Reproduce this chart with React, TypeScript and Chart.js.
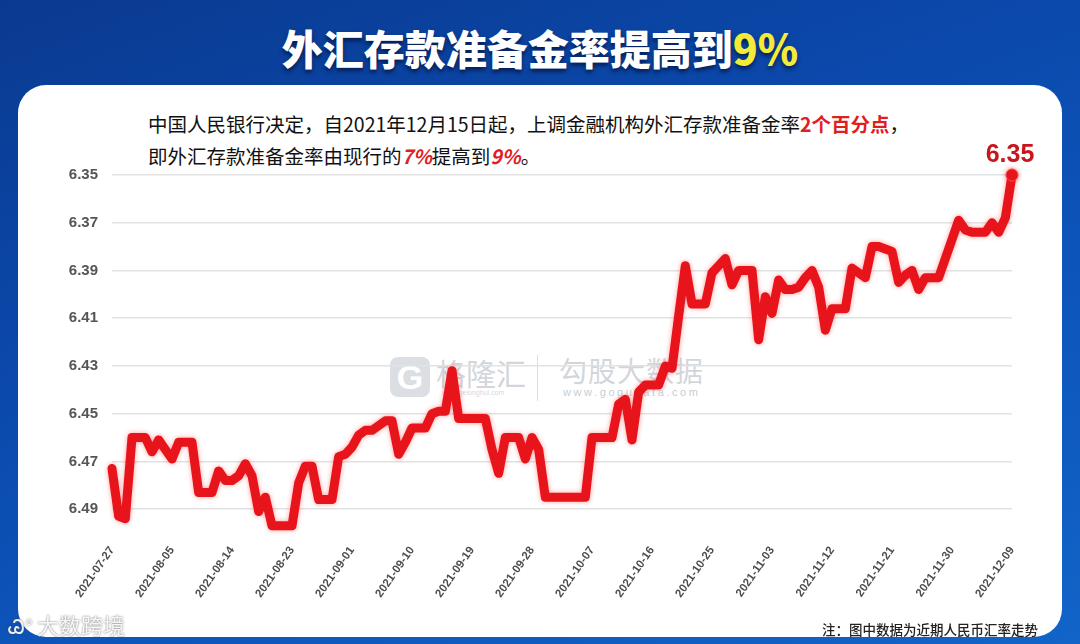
import React, { useEffect, useRef } from "react";
import { Chart, registerables } from "chart.js";

Chart.register(...registerables);

// ---- DATA ----
const julValues = [6.473, 6.493, 6.494, 6.46, 6.46];
const augValues = [
  6.46, 6.466, 6.461, 6.465, 6.469, 6.462, 6.462, 6.462, 6.483, 6.483, 6.483,
  6.474, 6.478, 6.478, 6.476, 6.471, 6.476, 6.491, 6.485, 6.497, 6.497, 6.497,
  6.497, 6.479, 6.472, 6.472, 6.486, 6.486, 6.486, 6.468, 6.467,
];
const sepValues = [
  6.464, 6.459, 6.457, 6.457, 6.455, 6.453, 6.453, 6.467, 6.462, 6.456, 6.456,
  6.456, 6.45, 6.449, 6.449, 6.432, 6.452, 6.452, 6.452, 6.452, 6.452, 6.465,
  6.475, 6.46, 6.46, 6.46, 6.469, 6.46, 6.465, 6.485,
];
const octValues = [
  6.485, 6.485, 6.485, 6.485, 6.485, 6.485, 6.46, 6.46, 6.46, 6.46, 6.446,
  6.444, 6.461, 6.441, 6.438, 6.438, 6.438, 6.43, 6.431, 6.409, 6.388, 6.404,
  6.404, 6.404, 6.391, 6.388, 6.385, 6.396, 6.39, 6.39, 6.39,
];
const novValues = [
  6.419, 6.401, 6.408, 6.394, 6.398, 6.398, 6.397, 6.393, 6.39, 6.397, 6.415,
  6.406, 6.406, 6.406, 6.389, 6.391, 6.393, 6.38, 6.38, 6.381, 6.382, 6.395,
  6.392, 6.39, 6.398, 6.393, 6.393, 6.393, 6.385, 6.377,
];
const decValues = [6.369, 6.373, 6.374, 6.374, 6.374, 6.37, 6.374, 6.368, 6.35];

const rates = [
  ...julValues,
  ...augValues,
  ...sepValues,
  ...octValues,
  ...novValues,
  ...decValues,
];

const firstDay = "2021-07-27";
const categories: string[] = (() => {
  const out: string[] = [];
  const d = new Date(firstDay + "T00:00:00Z");
  for (let i = 0; i < rates.length; i++) {
    out.push(d.toISOString().slice(0, 10));
    d.setUTCDate(d.getUTCDate() + 1);
  }
  return out;
})();

const tickLabels = [
  "2021-07-27", "2021-08-05", "2021-08-14", "2021-08-23", "2021-09-01",
  "2021-09-10", "2021-09-19", "2021-09-28", "2021-10-07", "2021-10-16",
  "2021-10-25", "2021-11-03", "2021-11-12", "2021-11-21", "2021-11-30",
  "2021-12-09",
];
const yTicks = [6.35, 6.37, 6.39, 6.41, 6.43, 6.45, 6.47, 6.49];
const yMin = 6.35;
const yMax = 6.5;
const lastLabel = "6.35";

const FONT = "'Liberation Sans', 'Noto Sans CJK SC', Arial, sans-serif";
const CJK = "'Noto Sans CJK SC', 'Noto Sans', sans-serif";

const lastValuePlugin = {
  id: "lastValue",
  afterDatasetsDraw(chart: any) {
    const meta = chart.getDatasetMeta(0);
    const pt = meta.data[meta.data.length - 1];
    if (!pt) return;
    const ctx = chart.ctx;
    ctx.save();
    ctx.font = "bold 25px " + FONT;
    ctx.fillStyle = "#c9151c";
    ctx.textAlign = "center";
    ctx.textBaseline = "alphabetic";
    ctx.fillText(lastLabel, pt.x - 2, pt.y - 13);
    ctx.restore();
  },
};

const glowPlugin = {
  id: "glow",
  beforeDatasetDraw(chart: any) {
    const ctx = chart.ctx;
    ctx.save();
    ctx.shadowColor = "rgba(255,40,40,0.45)";
    ctx.shadowBlur = 5;
  },
  afterDatasetDraw(chart: any) {
    chart.ctx.restore();
  },
};

function RateChart() {
  const ref = useRef<HTMLCanvasElement | null>(null);
  useEffect(() => {
    if (!ref.current) return;
    const chart = new Chart(ref.current, {
      type: "line",
      data: {
        labels: categories,
        datasets: [
          {
            data: rates,
            borderColor: "#e8141b",
            borderWidth: 9,
            borderJoinStyle: "round",
            borderCapStyle: "round",
            tension: 0,
            clip: false as any,
            pointRadius: rates.map((_, i) => (i === rates.length - 1 ? 6 : 0)),
            pointBackgroundColor: "#e8141b",
            pointBorderColor: "#f04848",
            pointBorderWidth: 1,
            fill: false,
          },
        ],
      },
      options: {
        animation: false,
        responsive: true,
        maintainAspectRatio: false,
        layout: { padding: { left: 0, right: 68, top: 175, bottom: 40 } },
        plugins: {
          legend: { display: false },
          tooltip: { enabled: false },
        },
        scales: {
          y: {
            reverse: true,
            min: yMin,
            max: yMax,
            afterBuildTicks: (ax: any) => {
              ax.ticks = yTicks.map((v) => ({ value: v }));
            },
            afterFit: (ax: any) => {
              ax.width = 112;
            },
            grid: { color: "#e2e2e2", lineWidth: 1.5, drawTicks: false },
            border: { display: false },
            ticks: {
              padding: 14,
              color: "#555555",
              font: { size: 15, weight: "bold", family: FONT },
              callback: (v: any) => Number(v).toFixed(2),
            },
          },
          x: {
            afterBuildTicks: (ax: any) => {
              ax.ticks = ax.ticks.filter((t: any) =>
                tickLabels.includes(categories[t.value])
              );
            },
            afterFit: (ax: any) => {
              ax.height = 71;
            },
            grid: { display: false, drawTicks: false },
            border: { display: false },
            ticks: {
              autoSkip: false,
              minRotation: 55,
              maxRotation: 55,
              padding: 11,
              color: "#4d4d4d",
              font: { size: 11.5, weight: "bold", family: FONT },
            },
          },
        },
      },
      plugins: [glowPlugin, lastValuePlugin],
    } as any);
    return () => chart.destroy();
  }, []);
  return <canvas ref={ref} />;
}

export default function App() {
  const red = "#e0201f";
  return (
    <div
      style={{
        position: "fixed",
        left: 0,
        top: 0,
        width: 1080,
        height: 644,
        overflow: "hidden",
        background:
          "linear-gradient(160deg, #0a3a90 0%, #0b48aa 35%, #0d55bb 65%, #1264c8 100%)",
        fontFamily: CJK,
      }}
    >
      {/* title */}
      <div
        style={{
          position: "absolute",
          left: 0,
          top: 20,
          width: 1080,
          textAlign: "center",
          fontSize: 41,
          fontWeight: 900,
          lineHeight: "54px",
          color: "#ffffff",
          textShadow: "0 3px 4px rgba(0,0,30,0.6)",
          fontFamily: CJK,
        }}
      >
        外汇存款准备金率提高到<span style={{ color: "#f3ea3a" }}>9%</span>
      </div>
      {/* card */}
      <div
        style={{
          position: "absolute",
          left: 18,
          top: 85,
          width: 1044,
          height: 552,
          background: "#ffffff",
          borderRadius: 28,
        }}
      />
      {/* watermark middle */}
      <div style={{ position: "absolute", left: 0, top: 0, width: 1080, height: 644, pointerEvents: "none" }}>
        <div
          style={{
            position: "absolute",
            left: 390,
            top: 357,
            width: 40,
            height: 40,
            borderRadius: 8,
            background: "rgba(190,196,206,0.55)",
            color: "#ffffff",
            fontSize: 34,
            fontWeight: 900,
            lineHeight: "40px",
            textAlign: "center",
            fontFamily: FONT,
          }}
        >
          G
        </div>
        <div
          style={{
            position: "absolute",
            left: 436,
            top: 352,
            fontSize: 30,
            lineHeight: "40px",
            color: "rgba(180,186,196,0.6)",
          }}
        >
          格隆汇
        </div>
        <div
          style={{
            position: "absolute",
            left: 442,
            top: 389,
            fontSize: 7,
            color: "rgba(180,186,196,0.6)",
            fontFamily: FONT,
          }}
        >
          www.gelonghui.com
        </div>
        <div
          style={{
            position: "absolute",
            left: 537,
            top: 355,
            width: 1,
            height: 46,
            background: "rgba(190,196,206,0.55)",
          }}
        />
        <div
          style={{
            position: "absolute",
            left: 559,
            top: 350,
            fontSize: 28,
            lineHeight: "40px",
            letterSpacing: 1,
            color: "rgba(180,186,196,0.6)",
          }}
        >
          勾股大数据
        </div>
        <div
          style={{
            position: "absolute",
            left: 563,
            top: 386,
            fontSize: 11,
            letterSpacing: 2.6,
            color: "rgba(160,166,176,0.6)",
            fontFamily: FONT,
          }}
        >
          www.gogudata.com
        </div>
      </div>
      {/* annotation */}
      <div
        style={{
          position: "absolute",
          left: 148,
          top: 108,
          fontSize: 19.5,
          lineHeight: "32px",
          color: "#111111",
          whiteSpace: "nowrap",
        }}
      >
        <div>
          中国人民银行决定，自2021年12月15日起，上调金融机构外汇存款准备金率
          <span style={{ color: red, fontWeight: 700 }}>2个百分点</span>，
        </div>
        <div>
          即外汇存款准备金率由现行的
          <span style={{ color: red, fontWeight: 700, fontStyle: "italic" }}>7%</span>
          提高到
          <span style={{ color: red, fontWeight: 700, fontStyle: "italic" }}>9%</span>。
        </div>
      </div>
      {/* chart */}
      <div style={{ position: "absolute", left: 0, top: 0, width: 1080, height: 644 }}>
        <RateChart />
      </div>
      {/* note */}
      <div
        style={{
          position: "absolute",
          left: 822,
          top: 619,
          fontSize: 13.5,
          lineHeight: "20px",
          color: "#222222",
          fontWeight: 500,
          whiteSpace: "nowrap",
        }}
      >
        注：图中数据为近期人民币汇率走势
      </div>
      {/* bottom-left watermark */}
      <div
        style={{
          position: "absolute",
          left: 8,
          top: 608,
          fontSize: 22,
          lineHeight: "32px",
          color: "rgba(255,255,255,0.92)",
          textShadow: "0 0 2px rgba(60,60,60,0.8)",
          whiteSpace: "nowrap",
        }}
      >
        <span style={{ fontFamily: FONT, fontSize: 20, marginRight: 4 }}>Ꮚ°</span>大数跨境
      </div>
    </div>
  );
}
